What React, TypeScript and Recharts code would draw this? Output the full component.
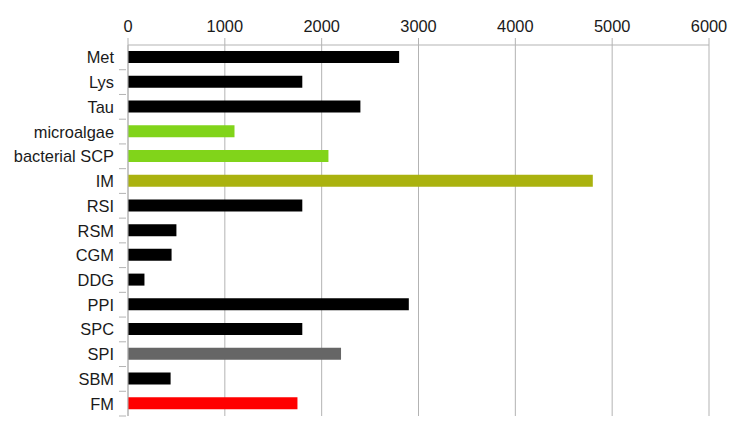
import { BarChart, Bar, XAxis, YAxis, CartesianGrid, Cell } from 'recharts';

const categories = ['Met', 'Lys', 'Tau', 'microalgae', 'bacterial SCP', 'IM', 'RSI', 'RSM', 'CGM', 'DDG', 'PPI', 'SPC', 'SPI', 'SBM', 'FM'];
const values = [2800, 1800, 2400, 1100, 2070, 4800, 1800, 500, 450, 170, 2900, 1800, 2200, 440, 1750];
const barColors = ['#000000', '#000000', '#000000', '#81d41a', '#81d41a', '#aab20f', '#000000', '#000000', '#000000', '#000000', '#000000', '#000000', '#666666', '#000000', '#ff0000'];
const xTicks = [0, 1000, 2000, 3000, 4000, 5000, 6000];

const data = categories.map((name, i) => ({ name, value: values[i] }));

const WIDTH = 736;
const HEIGHT = 414;
const MARGIN = { top: 7, right: 35, bottom: 6, left: 0 };
const X_AXIS_HEIGHT = 30;
const PLOT_HEIGHT = HEIGHT - MARGIN.top - MARGIN.bottom - X_AXIS_HEIGHT;
const BAND = PLOT_HEIGHT / categories.length;
const FONT = "'Liberation Sans', Arial, sans-serif";

function CategoryTick(props: any) {
  const { x, y, payload, index } = props;
  const last = index === categories.length - 1;
  return (
    <g>
      <text x={x - 12} y={y} dy={6} textAnchor="end" fontSize={16.4} fill="#1a1a1a" fontFamily={FONT}>
        {payload.value}
      </text>
      {index > 0 && <line x1={x - 7} x2={x} y1={y - BAND / 2} y2={y - BAND / 2} stroke="#b3b3b3" />}
      {last && <line x1={x - 7} x2={x} y1={y + BAND / 2} y2={y + BAND / 2} stroke="#b3b3b3" />}
    </g>
  );
}

export default function App() {
  return (
    <BarChart width={WIDTH} height={HEIGHT} data={data} layout="vertical" margin={MARGIN}>
      <CartesianGrid horizontal={false} stroke="#b3b3b3" />
      <XAxis
        type="number"
        orientation="top"
        domain={[0, 6000]}
        ticks={xTicks}
        height={X_AXIS_HEIGHT}
        stroke="#b3b3b3"
        tickSize={7}
        tickMargin={6}
        tick={{ fontSize: 16.4, fill: '#1a1a1a', fontFamily: FONT }}
      />
      <YAxis
        type="category"
        dataKey="name"
        width={120}
        stroke="#b3b3b3"
        tickLine={false}
        tickSize={0}
        interval={0}
        tick={<CategoryTick />}
      />
      <Bar dataKey="value" barSize={12} isAnimationActive={false}>
        {data.map((d, i) => (
          <Cell key={d.name} fill={barColors[i]} />
        ))}
      </Bar>
    </BarChart>
  );
}
